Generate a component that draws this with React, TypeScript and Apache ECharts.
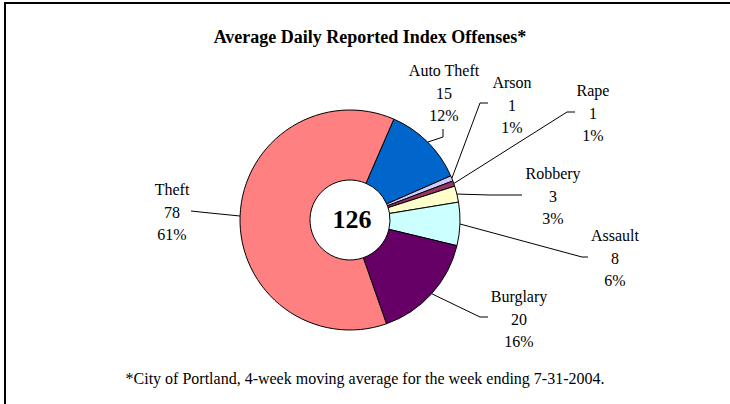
import React, { useEffect, useRef } from "react";
import * as echarts from "echarts";

const categories = ["Auto Theft", "Arson", "Rape", "Robbery", "Assault", "Burglary", "Theft"];
const values = [15, 1, 1, 3, 8, 20, 78];
const percentLabels = ["12%", "1%", "1%", "3%", "6%", "16%", "61%"];
const colors = ["#0066CC", "#CCCCFF", "#993366", "#FFFFCC", "#CCFFFF", "#660066", "#FF8080"];
const titleText = "Average Daily Reported Index Offenses*";
const footnoteText = "*City of Portland, 4-week moving average for the week ending 7-31-2004.";

// label placement: [labelX, labelY (middle line), elbowX, elbowY, endX, endY]
const labelPlacement = [
  [444, 93, 443, 137, 443, 129],
  [512, 105, 480, 103, 488, 103],
  [593, 113, 567, 112, 575, 112],
  [553, 196, 490, 195, 522, 195],
  [615, 258, 582, 257, 588, 257],
  [519, 319, 480, 317, 488, 317],
  [172, 212, 205, 212.5, 191, 211],
];

const CX = 350;
const CY = 220;
const R_IN = 40;
const R_OUT = 110;
const START_ANGLE = 66.5;
const FONT = "'Liberation Serif', 'Times New Roman', serif";

export default function App() {
  const ref = useRef<HTMLDivElement>(null);
  useEffect(() => {
    if (!ref.current) return;
    const chart = echarts.init(ref.current, undefined, { renderer: "svg" });
    const total = values.reduce((a, b) => a + b, 0);
    const cum: number[] = [];
    let acc = 0;
    values.forEach((v) => {
      cum.push(acc);
      acc += v;
    });
    const startPoint = (i: number) => {
      const mid = START_ANGLE - ((cum[i] + values[i] / 2) / total) * 360;
      const rad = (mid * Math.PI) / 180;
      return [CX + R_OUT * Math.cos(rad), CY - R_OUT * Math.sin(rad)];
    };
    chart.setOption({
      animation: false,
      backgroundColor: "#ffffff",
      series: [
        {
          type: "pie",
          center: [CX, CY],
          radius: [R_IN, R_OUT],
          startAngle: START_ANGLE,
          clockwise: true,
          avoidLabelOverlap: false,
          silent: true,
          itemStyle: { borderColor: "#000000", borderWidth: 1 },
          emphasis: { disabled: true },
          label: {
            show: true,
            position: "outside",
            fontFamily: FONT,
            fontSize: 16,
            lineHeight: 22.5,
            color: "#000000",
            align: "center",
            verticalAlign: "middle",
            formatter: (p: any) => `${p.name}\n${p.value}\n${percentLabels[p.dataIndex]}`,
          },
          labelLine: {
            show: true,
            length: 10,
            length2: 10,
            smooth: false,
            lineStyle: { color: "#000000", width: 1 },
          },
          labelLayout: (params: any) => {
            const i = params.dataIndex;
            const lp = labelPlacement[i];
            return {
              x: lp[0],
              y: lp[1],
              align: "center",
              verticalAlign: "middle",
              labelLinePoints: [startPoint(i), [lp[2], lp[3]], [lp[4], lp[5]]],
            };
          },
          data: categories.map((name, i) => ({
            name,
            value: values[i],
            itemStyle: { color: colors[i] },
          })),
        },
      ],
      graphic: [
        {
          type: "line",
          shape: { x1: 4, y1: 3, x2: 730, y2: 3 },
          style: { stroke: "#000000", lineWidth: 2 },
          silent: true,
        },
        {
          type: "line",
          shape: { x1: 5, y1: 2, x2: 5, y2: 404 },
          style: { stroke: "#000000", lineWidth: 2 },
          silent: true,
        },
        {
          type: "text",
          x: 370,
          y: 37,
          style: {
            text: titleText,
            font: `bold 18px ${FONT}`,
            fill: "#000000",
            align: "center",
            verticalAlign: "middle",
            textAlign: "center",
            textVerticalAlign: "middle",
          },
        },
        {
          type: "text",
          x: 365,
          y: 378,
          style: {
            text: footnoteText,
            font: `16px ${FONT}`,
            fill: "#000000",
            align: "center",
            verticalAlign: "middle",
            textAlign: "center",
            textVerticalAlign: "middle",
          },
        },
        {
          type: "text",
          x: 352,
          y: 219,
          z: 10,
          style: {
            text: String(total),
            font: `bold 26px ${FONT}`,
            fill: "#000000",
            align: "center",
            verticalAlign: "middle",
            textAlign: "center",
            textVerticalAlign: "middle",
          },
        },
      ],
    });
    return () => chart.dispose();
  }, []);
  return (
    <div
      ref={ref}
      style={{ position: "absolute", left: 0, top: 0, width: 730, height: 404, background: "#fff" }}
    />
  );
}
